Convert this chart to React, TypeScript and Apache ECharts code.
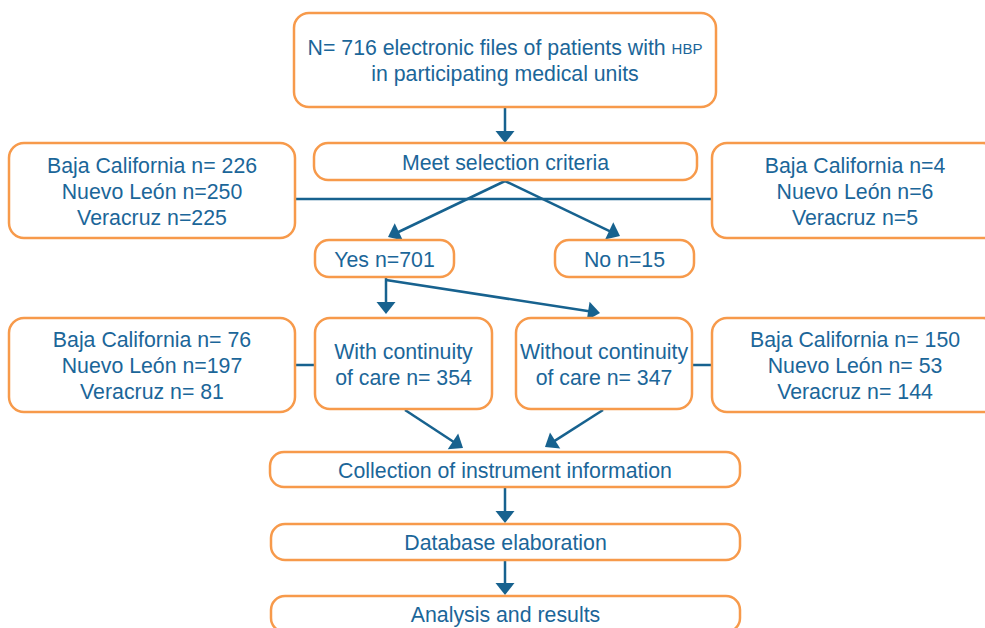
import React, { useEffect, useRef } from "react";
import * as echarts from "echarts";

const TEXT_COLOR = "#1b6699";
const LINE_COLOR = "#17628f";
const BORDER_COLOR = "#f79a4b";
const FONT = "21.3px 'Liberation Sans', Arial, sans-serif";

const topLine1 = "N= 716 electronic files of patients with ";
const topLine1Small = "HBP";
const topLine2 = "in participating medical units";
const selectionLabel = "Meet selection criteria";
const excludedLeft = ["Baja California n= 226", "Nuevo León n=250", "Veracruz n=225"];
const excludedRight = ["Baja California n=4", "Nuevo León n=6", "Veracruz n=5"];
const yesLabel = "Yes n=701";
const noLabel = "No n=15";
const withLabel = ["With continuity", "of care n= 354"];
const withoutLabel = ["Without continuity", "of care n= 347"];
const withStates = ["Baja California n= 76", "Nuevo León n=197", "Veracruz n= 81"];
const withoutStates = ["Baja California n= 150", "Nuevo León n= 53", "Veracruz n= 144"];
const stepLabels = ["Collection of instrument information", "Database elaboration", "Analysis and results"];

type Box = { x: number; y: number; w: number; h: number; r: number; lines?: string[] };

function boxEls(b: Box): any[] {
  const els: any[] = [
    {
      type: "rect",
      shape: { x: b.x, y: b.y, width: b.w, height: b.h, r: b.r },
      style: { fill: "#ffffff", stroke: BORDER_COLOR, lineWidth: 2.5 },
    },
  ];
  if (b.lines) {
    els.push({
      type: "text",
      x: b.x + b.w / 2,
      y: b.y + b.h / 2 + 1,
      style: {
        text: b.lines.join("\n"),
        fill: TEXT_COLOR,
        font: FONT,
        lineHeight: 26,
        align: "center",
        verticalAlign: "middle",
      },
    });
  }
  return els;
}

function arrowEls(x1: number, y1: number, x2: number, y2: number): any[] {
  const len = Math.hypot(x2 - x1, y2 - y1);
  const ux = (x2 - x1) / len;
  const uy = (y2 - y1) / len;
  const headL = 12;
  const headW = 9.5;
  const bx = x2 - ux * headL;
  const by = y2 - uy * headL;
  const px = -uy;
  const py = ux;
  return [
    {
      type: "line",
      shape: { x1, y1, x2: bx + ux * 1, y2: by + uy * 1 },
      style: { stroke: LINE_COLOR, lineWidth: 2.5 },
    },
    {
      type: "polygon",
      shape: {
        points: [
          [x2, y2],
          [bx + px * headW, by + py * headW],
          [bx - px * headW, by - py * headW],
        ],
      },
      style: { fill: LINE_COLOR },
    },
  ];
}

function lineEl(x1: number, y1: number, x2: number, y2: number): any {
  return { type: "line", shape: { x1, y1, x2, y2 }, style: { stroke: LINE_COLOR, lineWidth: 2.5 } };
}

export default function App() {
  const ref = useRef<HTMLDivElement>(null);
  useEffect(() => {
    if (!ref.current) return;
    const chart = echarts.init(ref.current, undefined, { renderer: "svg" });
    const els: any[] = [];

    els.push(lineEl(295, 199, 712, 199));
    els.push(lineEl(295, 365, 316, 365));
    els.push(lineEl(691, 365, 712, 365));

    els.push(...arrowEls(505, 107, 505, 143));
    els.push(...arrowEls(505, 181, 388, 237));
    els.push(...arrowEls(505, 181, 620, 236));
    els.push(...arrowEls(386, 277, 386, 314));
    els.push(...arrowEls(386, 280, 600, 313));
    els.push(...arrowEls(405, 410, 463, 448));
    els.push(...arrowEls(603, 410, 545, 447));
    els.push(...arrowEls(505, 487, 505, 523));
    els.push(...arrowEls(505, 560, 505, 595));

    els.push({
      type: "rect",
      shape: { x: 294, y: 13, width: 422, height: 94, r: 15 },
      style: { fill: "#ffffff", stroke: BORDER_COLOR, lineWidth: 2.5 },
    });
    els.push({
      type: "text",
      x: 505,
      y: 48,
      style: {
        text: "{a|" + topLine1 + "}{b|" + topLine1Small + "}",
        align: "center",
        verticalAlign: "middle",
        rich: {
          a: { fill: TEXT_COLOR, font: FONT },
          b: { fill: TEXT_COLOR, font: "15px 'Liberation Sans', Arial, sans-serif" },
        },
      },
    });
    els.push({
      type: "text",
      x: 505,
      y: 74,
      style: {
        text: topLine2,
        fill: TEXT_COLOR,
        font: FONT,
        align: "center",
        verticalAlign: "middle",
      },
    });

    const boxes: Box[] = [
      { x: 314, y: 143, w: 383, h: 37, r: 14, lines: [selectionLabel] },
      { x: 9, y: 143, w: 286, h: 95, r: 15, lines: excludedLeft },
      { x: 712, y: 143, w: 286, h: 95, r: 15, lines: excludedRight },
      { x: 315, y: 240, w: 139, h: 37, r: 14, lines: [yesLabel] },
      { x: 555, y: 240, w: 139, h: 37, r: 14, lines: [noLabel] },
      { x: 9, y: 318, w: 286, h: 94, r: 15, lines: withStates },
      { x: 315, y: 318, w: 177, h: 91, r: 15, lines: withLabel },
      { x: 516, y: 318, w: 176, h: 91, r: 15, lines: withoutLabel },
      { x: 712, y: 318, w: 286, h: 94, r: 15, lines: withoutStates },
      { x: 270, y: 452, w: 470, h: 35, r: 14, lines: [stepLabels[0]] },
      { x: 271, y: 524, w: 469, h: 36, r: 14, lines: [stepLabels[1]] },
      { x: 271, y: 596, w: 469, h: 36, r: 14, lines: [stepLabels[2]] },
    ];
    boxes.forEach((b) => els.push(...boxEls(b)));

    chart.setOption({
      animation: false,
      backgroundColor: "#ffffff",
      graphic: { elements: els },
    });
    return () => chart.dispose();
  }, []);
  return (
    <div
      ref={ref}
      style={{ position: "fixed", left: 0, top: 0, width: 985, height: 628 }}
    />
  );
}
